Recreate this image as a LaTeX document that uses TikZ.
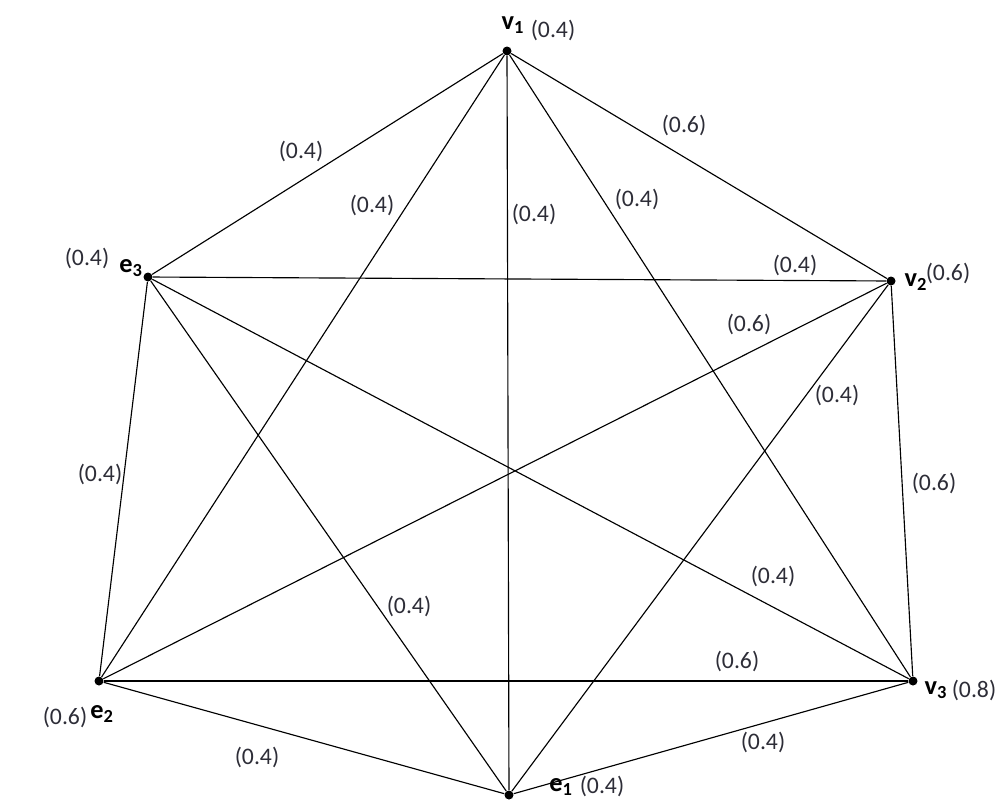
\documentclass[tikz,border=0pt]{standalone}
\usepackage{fontspec}
\setmainfont{Carlito}
\usetikzlibrary{positioning}
\definecolor{wtgray}{RGB}{45,45,55}

\begin{document}
\begin{tikzpicture}[
    x=0.02cm, y=-0.02cm,
    vtx/.style={circle, fill=black, inner sep=0pt, minimum size=0.18cm},
    edge/.style={line width=0.65pt},
    wt/.style={font=\fontsize{13.5}{15}\selectfont, text=wtgray, inner sep=1pt},
    vname/.style={font=\fontsize{15}{17}\selectfont\bfseries, inner sep=1pt}
  ]
  \useasboundingbox (0,0) rectangle (1002,799);

  % vertices
  \node[vtx] (v1) at (507,51) {};
  \node[vtx] (v2) at (891,281) {};
  \node[vtx] (v3) at (913,681) {};
  \node[vtx] (e1) at (509,795) {};
  \node[vtx] (e2) at (99,681) {};
  \node[vtx] (e3) at (148,277) {};

  % vertex names and values
  \node[vname] (nv1) at (513,25) {v\textsubscript{1}};
  \node[wt] (pv1) at (553,30) {(0.4)};
  \node[vname] (nv2) at (916,282) {v\textsubscript{2}};
  \node[wt] (pv2) at (948,273) {(0.6)};
  \node[vname] (nv3) at (936,690) {v\textsubscript{3}};
  \node[wt] (pv3) at (974,690) {(0.8)};
  \node[vname] (ne1) at (561,787) {e\textsubscript{1}};
  \node[wt] (pe1) at (602,786) {(0.4)};
  \node[vname] (ne2) at (102,714) {e\textsubscript{2}};
  \node[wt] (pe2) at (65,717) {(0.6)};
  \node[vname] (ne3) at (131,268) {e\textsubscript{3}};
  \node[wt] (pe3) at (87,258) {(0.4)};

  % edges
  \draw[edge] (v1) -- (v2);
  \draw[edge] (v1) -- (v3);
  \draw[edge] (v1) -- (e1);
  \draw[edge] (v1) -- (e2);
  \draw[edge] (v1) -- (e3);
  \draw[edge] (v2) -- (v3);
  \draw[edge] (v2) -- (e1);
  \draw[edge] (v2) -- (e2);
  \draw[edge] (v2) -- (e3);
  \draw[edge] (v3) -- (e1);
  \draw[edge] (v3) -- (e2);
  \draw[edge] (v3) -- (e3);
  \draw[edge] (e1) -- (e2);
  \draw[edge] (e1) -- (e3);
  \draw[edge] (e2) -- (e3);

  % edge weights
  \node[wt] (w13) at (301,151) {(0.4)};
  \node[wt] (w1e2) at (372,205) {(0.4)};
  \node[wt] (w1e1) at (534,214) {(0.4)};
  \node[wt] (w1v3) at (637,199) {(0.4)};
  \node[wt] (w1v2) at (684,125) {(0.6)};
  \node[wt] (w3v2) at (795,265) {(0.4)};
  \node[wt] (w2v2) at (749,324) {(0.6)};
  \node[wt] (wv2e1) at (837,395) {(0.4)};
  \node[wt] (wv2v3) at (934,483) {(0.6)};
  \node[wt] (we3e2) at (100,474) {(0.4)};
  \node[wt] (we3v3) at (773,576) {(0.4)};
  \node[wt] (we3e1) at (409,606) {(0.4)};
  \node[wt] (we2v3) at (737,661) {(0.6)};
  \node[wt] (we1v3) at (763,742) {(0.4)};
  \node[wt] (we2e1) at (257,757) {(0.4)};
\end{tikzpicture}
\end{document}
